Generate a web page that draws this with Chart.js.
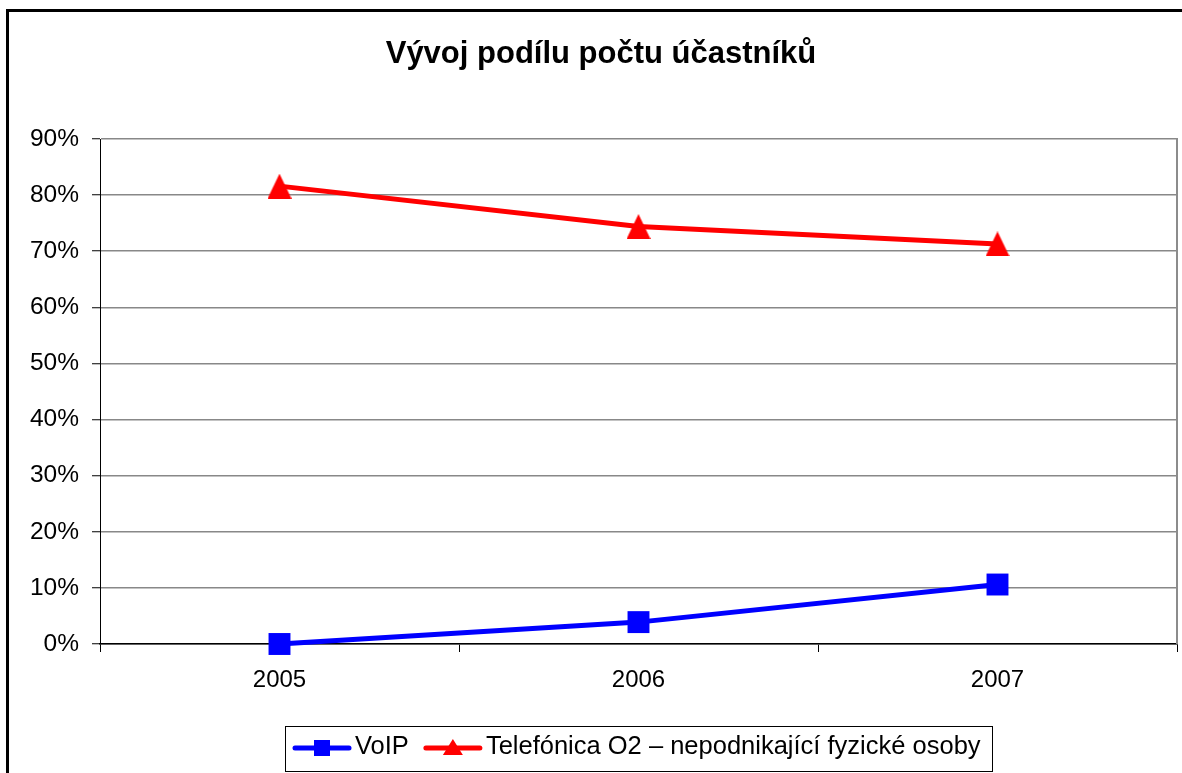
<!DOCTYPE html>
<html>
<head>
<meta charset="utf-8">
<script src="https://cdn.jsdelivr.net/npm/chart.js@4.4.1/dist/chart.umd.min.js"></script>
<style>
  html, body { margin: 0; padding: 0; background: #fff; overflow: hidden; }
  .frame { position: absolute; left: 6px; top: 9px; width: 2000px; height: 2000px; border: 3px solid #000; }
  .wrap { position: absolute; left: 0; top: 0; width: 1182px; height: 773px; }
</style>
</head>
<body>
<div class="frame"></div>
<div class="wrap"><canvas id="chart" width="1182" height="773"></canvas></div>
<script>
// data, in percent
const years = ['2005', '2006', '2007'];
const voip = [0, 3.9, 10.6];
const telefonica = [81.6, 74.4, 71.3];
const seriesNames = ['VoIP', 'Telefónica O2 – nepodnikající fyzické osoby'];
const yMax = 90;
const yStep = 10;

const FONT = '"Liberation Sans", Arial, sans-serif';

// triangle centred on its box, like the office marker
function triangleImage(w, h, color) {
  const c = document.createElement('canvas');
  c.width = w;
  c.height = h;
  const g = c.getContext('2d');
  g.fillStyle = color;
  g.beginPath();
  g.moveTo(w / 2, 0);
  g.lineTo(w, h);
  g.lineTo(0, h);
  g.closePath();
  g.fill();
  return c;
}

// gray right edge of the plot
const plotEdge = {
  id: 'plotEdge',
  afterDraw(chart) {
    const {ctx, chartArea} = chart;
    ctx.save();
    ctx.strokeStyle = '#8c8c8c';
    ctx.lineWidth = 2;
    ctx.beginPath();
    ctx.moveTo(chartArea.right, chartArea.top - 1);
    ctx.lineTo(chartArea.right, chartArea.bottom);
    ctx.stroke();
    ctx.restore();
  }
};

// boxed legend with line + marker samples
const boxLegend = {
  id: 'boxLegend',
  afterDraw(chart) {
    const {ctx, chartArea} = chart;
    const lineLen = 58, gap = 4, itemGap = 15, padL = 8, padR = 11;
    ctx.save();
    ctx.font = '25.5px ' + FONT;
    const items = chart.data.datasets.map(ds => ({
      label: ds.label,
      color: ds.borderColor,
      marker: ds.legendMarker,
      w: ctx.measureText(ds.label).width
    }));
    let total = padL + padR;
    items.forEach((it, i) => {
      total += lineLen + gap + it.w + (i < items.length - 1 ? itemGap : 0);
    });
    const cx = (chartArea.left + chartArea.right) / 2;
    const left = Math.round(cx - total / 2);
    const top = 726, h = 45, mid = top + 22;

    ctx.strokeStyle = '#000';
    ctx.lineWidth = 1;
    ctx.strokeRect(left + 0.5, top + 0.5, Math.round(total), h);

    let x = left + padL;
    items.forEach(it => {
      ctx.strokeStyle = it.color;
      ctx.fillStyle = it.color;
      ctx.lineWidth = 5;
      ctx.lineCap = 'round';
      ctx.beginPath();
      ctx.moveTo(x + 2, mid);
      ctx.lineTo(x + lineLen - 2, mid);
      ctx.stroke();
      const mx = x + lineLen / 2;
      if (it.marker === 'square') {
        ctx.fillRect(mx - 8, mid - 8, 16, 16);
      } else {
        ctx.beginPath();
        ctx.moveTo(mx, mid - 9);
        ctx.lineTo(mx + 10, mid + 7);
        ctx.lineTo(mx - 10, mid + 7);
        ctx.closePath();
        ctx.fill();
      }
      x += lineLen + gap;
      ctx.fillStyle = '#000';
      ctx.textBaseline = 'middle';
      ctx.textAlign = 'left';
      ctx.fillText(it.label, x, mid - 1);
      x += it.w + itemGap;
    });
    ctx.restore();
  }
};

new Chart(document.getElementById('chart'), {
  type: 'line',
  data: {
    labels: years,
    datasets: [
      {
        label: seriesNames[0],
        data: voip,
        borderColor: '#0000ff',
        backgroundColor: '#0000ff',
        borderWidth: 5,
        pointStyle: 'rect',
        pointRadius: 15.5,
        pointBorderWidth: 0,
        legendMarker: 'square',
        clip: false
      },
      {
        label: seriesNames[1],
        data: telefonica,
        borderColor: '#ff0000',
        backgroundColor: '#ff0000',
        borderWidth: 5,
        pointStyle: triangleImage(24, 25, '#ff0000'),
        pointRadius: 13,
        pointBorderWidth: 0,
        legendMarker: 'triangle',
        clip: false
      }
    ]
  },
  options: {
    responsive: false,
    animation: false,
    layout: { autoPadding: false, padding: { left: 25, right: 5, top: 0, bottom: 69 } },
    plugins: {
      legend: { display: false },
      tooltip: { enabled: false },
      title: {
        display: true,
        text: 'Vývoj podílu počtu účastníků',
        color: '#000',
        font: { family: FONT, size: 31, weight: 'bold', lineHeight: 1.2 },
        padding: { top: 36, bottom: 65.8 }
      }
    },
    scales: {
      x: {
        offset: true,
        grid: { offset: true, drawOnChartArea: false, drawTicks: true, tickLength: 8, color: '#000', lineWidth: 1 },
        border: { color: '#000', width: 1.5 },
        ticks: { color: '#000', padding: 14, font: { family: FONT, size: 24 } },
        afterFit(scale) {
          scale.height = 60;
          scale.paddingLeft = 0;
          scale.paddingRight = 0;
        }
      },
      y: {
        min: 0,
        max: yMax,
        grid: { color: '#888', lineWidth: 1.5, tickLength: 8, tickColor: '#000', tickWidth: 1 },
        border: { color: '#000', width: 1 },
        ticks: {
          stepSize: yStep,
          color: '#000',
          padding: 13,
          font: { family: FONT, size: 24.5 },
          callback: v => v + '%'
        },
        afterFit(scale) { scale.width = 75; }
      }
    }
  },
  plugins: [plotEdge, boxLegend]
});
</script>
</body>
</html>
